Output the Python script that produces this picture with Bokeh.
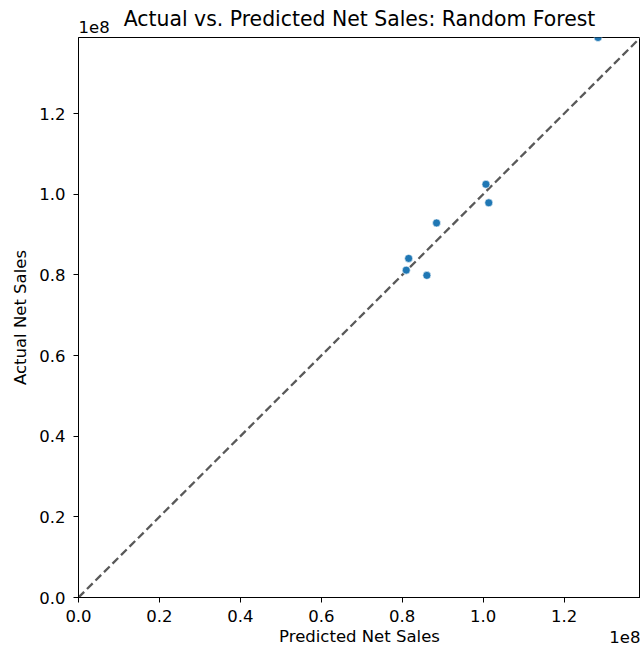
from bokeh.plotting import figure
from bokeh.models import Range1d, FixedTicker, CustomJSTickFormatter, Title
from bokeh.embed import file_html
from bokeh.resources import INLINE

# Data
predicted = [128.4e6, 100.7e6, 101.4e6, 88.5e6, 81.6e6, 81.0e6, 86.1e6]
actual = [138.9e6, 102.5e6, 97.9e6, 92.9e6, 84.1e6, 81.2e6, 79.9e6]
diag = [0.0, 1.389e8]
ticks = [0.0, 0.2e8, 0.4e8, 0.6e8, 0.8e8, 1.0e8, 1.2e8]
title_text = "Actual vs. Predicted Net Sales: Random Forest"
offset_text = "1e8"

FONT = "DejaVu Sans"
LBL = "16.5px"

p = figure(width=640, height=648, output_backend="svg", toolbar_location=None,
           x_range=Range1d(diag[0], diag[1]), y_range=Range1d(diag[0], diag[1]),
           min_border_left=78, min_border_right=0, min_border_top=37, min_border_bottom=50,
           title=None)

# offset text above the y axis (nearest the frame), then the main title
p.add_layout(Title(text=offset_text, align="left", text_font=FONT, text_font_size=LBL,
                   text_font_style="normal", text_color="black", standoff=10), "above")
p.add_layout(Title(text=title_text, align="center", text_font=FONT, text_font_size="20.4px",
                   text_font_style="normal", text_color="black", standoff=-34), "above")

p.xgrid.visible = False
p.ygrid.visible = False
p.outline_line_color = "black"
p.outline_line_width = 1

fmt = CustomJSTickFormatter(code="return (tick/1e8).toFixed(1);")
for ax in (p.xaxis[0], p.yaxis[0]):
    ax.ticker = FixedTicker(ticks=ticks)
    ax.formatter = fmt
    ax.major_tick_in = 0
    ax.major_tick_out = 5
    ax.minor_tick_out = 0
    ax.minor_tick_in = 0
    ax.major_label_text_font = FONT
    ax.major_label_text_font_size = LBL
    ax.major_label_text_color = "black"
    ax.axis_label_text_font = FONT
    ax.axis_label_text_font_size = LBL
    ax.axis_label_text_font_style = "normal"
    ax.axis_label_text_color = "black"
    ax.axis_line_color = "black"
    ax.major_tick_line_color = "black"

p.xaxis.major_label_standoff = 7
p.xaxis.axis_label_standoff = 2
p.yaxis.major_label_standoff = 8
p.yaxis.axis_label_standoff = 6

p.xaxis.axis_label = "Predicted Net Sales"
p.yaxis.axis_label = "Actual Net Sales"

# offset text at the right end of the x axis, pulled up into the axis-label row
p.add_layout(Title(text=offset_text, align="right", vertical_align="top", text_font=FONT,
                   text_font_size=LBL, text_font_style="normal", text_color="black",
                   standoff=-36), "below")

p.line(diag, diag, line_color="#595959", line_width=2.3, line_dash="8 4")
p.scatter(predicted, actual, size=8, marker="circle", fill_color="#1f77b4",
          line_color="white", line_width=0.6)

open("out.html", "w").write(file_html(p, INLINE))
